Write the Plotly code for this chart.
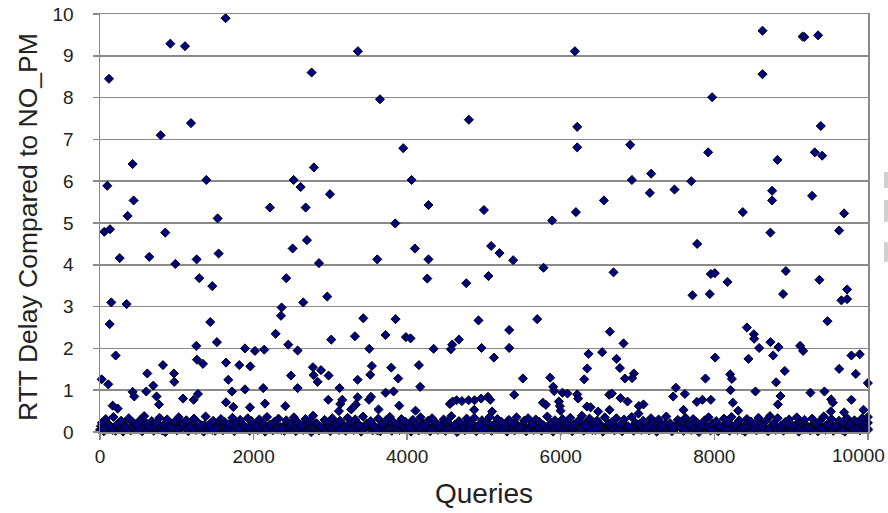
import plotly.graph_objects as go

# ---- Data ----
# Sparse points clearly visible above the dense band
out_x = [117, 916, 1107, 1636, 2756, 1185, 790, 425, 2786, 95, 1384, 2522, 2613, 2995, 438, 2213, 2678, 360, 1532,
         3359, 6185, 3646, 4804, 6215, 3949, 6215, 4057, 6562, 4278, 5000, 6198, 3845, 5889,
         8628, 9150, 9172, 9352, 8628, 7972, 9387, 6905, 7920, 9309, 9405, 8823, 7178, 6927, 7700, 7161, 7482, 8753, 8753, 9274, 8372, 9691,
         56, 130, 850, 2695, 2509, 256, 642, 1259, 1545, 981, 2852, 1293, 2426, 1462, 147, 347, 2647, 2960, 2365, 2357,
         126, 1436, 2287, 3012, 3320, 1254, 1523, 2452, 1888, 2018, 2139, 2574, 204, 1263, 1341, 820, 1641, 1814, 1957,
         2773, 2878, 616, 963, 2487, 2782, 2977, 22, 108, 694, 967, 1671, 2834, 1888, 2126, 2574, 3120, 425, 447, 603,
         737, 768, 1081, 1220, 1276, 1719, 1641, 1736, 1953, 2148, 2413, 2973, 3129, 3155, 165, 230, 3112,
         4101, 3611, 4278, 5094, 5203, 5381, 5776, 4262, 4770, 5059, 3429, 3849, 4929, 5694, 5329, 3719, 3984, 4044,
         4674, 4587, 3507, 4345, 4570, 4969, 5329, 5130, 6362, 6540, 6640, 3541, 3793, 4153, 6345, 3520, 3355, 3884,
         5507, 5863, 6306, 4170, 5902, 3719, 3823, 5915, 6023, 6088, 6215, 6227, 5394, 6631, 3355, 3503, 3529, 3333,
         3897, 4557, 4592, 4644, 4713, 4800, 4878, 4964, 5052, 5082, 5768, 5807, 5976, 5989, 6341, 6389, 6488, 3272,
         3627, 4109, 4873, 5107, 5998,
         7777, 8731, 9626, 6688, 7955, 8007, 8172, 8932, 9369, 7716, 7942, 8896, 9656, 9730, 9730, 9474, 8424, 8515,
         8519, 8584, 8731, 8836, 9118, 9157, 6818, 8767, 8011, 9786, 9895, 6727, 8445, 9626, 9843, 8918, 6771, 6953,
         6836, 6930, 7885, 8207, 8229, 8805, 10000, 7499, 8211, 8536, 9435, 9252, 7617, 7465, 6666, 8862, 6779, 6870,
         7018, 7078, 7773, 7846, 7955, 8242, 8828, 9522, 9544, 9786, 6636, 7013, 7599, 8311, 9517, 9691, 9943,
         10000, 10000, 10000]
out_y = [8.45, 9.29, 9.23, 9.90, 8.60, 7.39, 7.10, 6.41, 6.33, 5.89, 6.03, 6.03, 5.86, 5.69, 5.54, 5.37, 5.37, 5.17, 5.11,
         9.11, 9.11, 7.96, 7.47, 7.30, 6.79, 6.81, 6.03, 5.54, 5.43, 5.31, 5.26, 4.99, 5.06,
         9.60, 9.46, 9.45, 9.49, 8.56, 8.01, 7.32, 6.87, 6.69, 6.69, 6.61, 6.51, 6.18, 6.03, 6.00, 5.72, 5.80, 5.77, 5.54, 5.65, 5.26, 5.23,
         4.79, 4.85, 4.77, 4.59, 4.39, 4.16, 4.19, 4.13, 4.27, 4.02, 4.04, 3.68, 3.68, 3.49, 3.10, 3.06, 3.10, 3.24, 2.98, 2.78,
         2.58, 2.63, 2.35, 2.21, 2.29, 2.06, 2.15, 2.09, 2.00, 1.94, 1.97, 1.95, 1.83, 1.73, 1.63, 1.60, 1.66, 1.60, 1.57,
         1.55, 1.48, 1.40, 1.40, 1.35, 1.36, 1.35, 1.26, 1.14, 1.11, 1.20, 1.25, 1.20, 1.02, 1.05, 1.05, 1.05, 0.96, 0.85, 0.97,
         0.85, 0.66, 0.80, 0.77, 0.91, 0.97, 0.71, 0.60, 0.59, 0.68, 0.62, 0.77, 0.67, 0.77, 0.63, 0.56, 0.50,
         4.39, 4.13, 4.13, 4.45, 4.28, 4.11, 3.93, 3.67, 3.56, 3.73, 2.72, 2.70, 2.67, 2.70, 2.44, 2.32, 2.27, 2.24,
         2.21, 2.09, 1.99, 1.99, 1.98, 2.01, 2.01, 1.78, 1.87, 1.91, 2.40, 1.58, 1.54, 1.60, 1.52, 1.37, 1.25, 1.28,
         1.28, 1.30, 1.26, 1.08, 1.08, 0.94, 0.97, 0.98, 0.94, 0.92, 0.90, 0.80, 0.89, 0.89, 0.83, 0.77, 0.84, 0.66,
         0.63, 0.67, 0.73, 0.76, 0.74, 0.76, 0.76, 0.80, 0.84, 0.77, 0.70, 0.65, 0.73, 0.62, 0.61, 0.59, 0.49, 0.54,
         0.54, 0.51, 0.53, 0.49, 0.51,
         4.50, 4.77, 4.82, 3.82, 3.78, 3.80, 3.59, 3.85, 3.64, 3.27, 3.30, 3.30, 3.15, 3.18, 3.41, 2.65, 2.50, 2.34,
         2.23, 2.01, 2.15, 2.03, 2.06, 1.94, 2.12, 1.83, 1.78, 1.83, 1.86, 1.75, 1.75, 1.51, 1.39, 1.46, 1.53, 1.40,
         1.28, 1.29, 1.28, 1.38, 1.27, 1.19, 1.17, 1.06, 1.00, 0.97, 0.97, 0.94, 0.91, 0.85, 0.92, 0.86, 0.81, 0.73,
         0.62, 0.66, 0.72, 0.77, 0.77, 0.70, 0.66, 0.78, 0.70, 0.77, 0.53, 0.44, 0.53, 0.51, 0.49, 0.47, 0.53,
         0.22, 0.07, 0.36]

# Dense band of small values: queries sampled every 50 (three interleaved layers)
base_x = list(range(0, 10001, 50))
base_y = [0.05,0.02,0.09,0.11,0.03,0.07,0.01,0.10,0.04,0.08,0.12,0.02,0.06,0.09,0.03,0.11,0.05,0.00,0.08,0.10,
          0.04,0.07,0.12,0.02,0.09,0.05,0.10,0.01,0.06,0.11,0.03,0.08,0.04,0.12,0.07,0.02,0.10,0.06,0.09,0.03,
          0.11,0.05,0.08,0.01,0.10,0.04,0.07,0.12,0.03,0.09,0.06,0.02,0.11,0.05,0.08,0.00,0.10,0.04,0.07,0.12,
          0.02,0.09,0.06,0.11,0.03,0.08,0.05,0.10,0.01,0.07,0.12,0.04,0.09,0.02,0.06,0.11,0.03,0.08,0.05,0.10,
          0.07,0.01,0.12,0.04,0.09,0.06,0.02,0.11,0.05,0.08,0.03,0.10,0.07,0.00,0.12,0.04,0.09,0.06,0.02,0.11,
          0.05,0.08,0.03,0.10,0.07,0.12,0.01,0.09,0.04,0.06,0.11,0.02,0.08,0.05,0.10,0.03,0.07,0.12,0.01,0.09,
          0.04,0.11,0.06,0.02,0.08,0.10,0.03,0.07,0.12,0.05,0.09,0.01,0.06,0.11,0.04,0.08,0.02,0.10,0.07,0.03,
          0.12,0.05,0.09,0.04,0.11,0.01,0.07,0.10,0.06,0.02,0.08,0.12,0.03,0.09,0.05,0.11,0.00,0.07,0.10,0.04,
          0.06,0.02,0.08,0.12,0.03,0.09,0.05,0.11,0.01,0.07,0.10,0.04,0.06,0.12,0.02,0.08,0.05,0.11,0.03,0.09,
          0.07,0.10,0.01,0.06,0.12,0.04,0.08,0.02,0.11,0.05,0.09,0.03,0.10,0.07,0.01,0.12,0.06,0.08,0.04,0.11,
          0.05]
low_x = list(range(12, 10000, 50))
low_y = [0.14,0.08,0.19,0.05,0.16,0.11,0.21,0.07,0.13,0.18,0.06,0.15,0.20,0.09,0.12,0.17,0.04,0.14,0.22,0.10,
         0.07,0.18,0.12,0.20,0.06,0.15,0.09,0.17,0.13,0.05,0.19,0.11,0.16,0.08,0.21,0.14,0.06,0.18,0.10,0.15,
         0.19,0.09,0.13,0.07,0.17,0.22,0.11,0.05,0.16,0.12,0.20,0.08,0.14,0.18,0.06,0.11,0.21,0.13,0.09,0.17,
         0.10,0.16,0.05,0.19,0.12,0.08,0.15,0.20,0.07,0.13,0.18,0.11,0.04,0.16,0.21,0.09,0.14,0.06,0.19,0.12,
         0.17,0.07,0.13,0.10,0.20,0.15,0.05,0.18,0.11,0.22,0.08,0.14,0.16,0.06,0.12,0.19,0.09,0.17,0.13,0.07,
         0.11,0.20,0.15,0.08,0.14,0.06,0.18,0.12,0.21,0.09,0.16,0.05,0.13,0.19,0.10,0.17,0.07,0.15,0.11,0.20,
         0.06,0.13,0.18,0.10,0.16,0.08,0.21,0.14,0.05,0.12,0.19,0.09,0.17,0.11,0.15,0.07,0.22,0.13,0.08,0.18,
         0.16,0.10,0.06,0.19,0.12,0.15,0.09,0.20,0.14,0.07,0.17,0.11,0.05,0.18,0.13,0.21,0.08,0.16,0.12,0.06,
         0.20,0.12,0.15,0.07,0.18,0.10,0.13,0.05,0.19,0.16,0.09,0.14,0.21,0.11,0.06,0.17,0.13,0.08,0.19,0.15,
         0.09,0.17,0.11,0.21,0.06,0.14,0.19,0.12,0.08,0.16,0.20,0.10,0.13,0.05,0.18,0.15,0.07,0.12,0.17,0.10]
mid_x = list(range(25, 10000, 50))
mid_y = [0.22,0.31,0.15,0.36,0.19,0.27,0.12,0.33,0.24,0.18,0.29,0.38,0.14,0.26,0.21,0.34,0.17,0.30,0.11,0.25,
         0.35,0.20,0.28,0.13,0.32,0.23,0.16,0.37,0.19,0.27,0.10,0.31,0.24,0.18,0.34,0.22,0.29,0.15,0.33,0.26,
         0.14,0.30,0.21,0.36,0.17,0.25,0.32,0.12,0.28,0.19,0.35,0.23,0.16,0.31,0.26,0.39,0.20,0.13,0.29,0.24,
         0.33,0.18,0.27,0.11,0.34,0.22,0.30,0.15,0.37,0.21,0.26,0.14,0.32,0.19,0.28,0.36,0.23,0.17,0.31,0.25,
         0.12,0.29,0.20,0.35,0.16,0.27,0.33,0.22,0.13,0.30,0.24,0.38,0.18,0.26,0.11,0.32,0.21,0.34,0.15,0.28,
         0.23,0.36,0.17,0.31,0.25,0.14,0.29,0.20,0.35,0.12,0.27,0.33,0.19,0.30,0.24,0.16,0.37,0.22,0.28,0.13,
         0.31,0.21,0.34,0.18,0.26,0.39,0.15,0.32,0.23,0.28,0.11,0.35,0.20,0.25,0.33,0.17,0.30,0.14,0.36,0.22,
         0.19,0.27,0.13,0.33,0.24,0.30,0.16,0.37,0.21,0.12,0.29,0.25,0.34,0.18,0.31,0.23,0.15,0.28,0.35,0.20,
         0.26,0.14,0.32,0.22,0.36,0.17,0.28,0.11,0.31,0.25,0.19,0.34,0.13,0.27,0.38,0.21,0.33,0.16,0.24,0.30,
         0.15,0.35,0.23,0.29,0.12,0.32,0.20,0.26,0.37,0.18,0.31,0.14,0.27,0.22,0.34,0.19,0.28,0.24,0.33,0.17]

x_ticks = [0, 2000, 4000, 6000, 8000, 10000]
y_ticks = list(range(0, 11))

x_title = "Queries"
y_title = "RTT Delay Compared to NO_PM"

# ---- Figure ----
all_x = base_x + low_x + mid_x + out_x
all_y = base_y + low_y + mid_y + out_y

fig = go.Figure()
fig.add_trace(go.Scatter(
    x=all_x, y=all_y, mode="markers", cliponaxis=False,
    marker=dict(symbol="diamond", size=7, color="#000080",
                line=dict(color="#000000", width=1)),
    showlegend=False, hoverinfo="skip"))

FONT = "Liberation Sans, Arial, sans-serif"
TICKC = "#222222"
# the page's default 8px body margin is removed below, so the figure fills the window
W, H = 888, 513
L, R, T, B = 100, 20, 14, 81
x_labels = [str(v) if v != 10000 else "" for v in x_ticks]
fig.update_layout(
    width=W, height=H,
    margin=dict(l=L, r=R, t=T, b=B, autoexpand=False),
    paper_bgcolor="white", plot_bgcolor="white",
    font=dict(family=FONT, color=TICKC),
    xaxis=dict(range=[0, 10002], tickvals=x_ticks, ticktext=x_labels,
               showgrid=False, zeroline=False, showline=True, linecolor="#8a8a8a", linewidth=1.5,
               mirror=True, ticks="outside", ticklen=6, tickcolor="#8a8a8a", tickwidth=1.5,
               automargin=False, ticklabeloverflow="allow",
               tickfont=dict(size=19, family=FONT, color=TICKC), ticklabelstandoff=1),
    yaxis=dict(range=[0, 10], tickvals=y_ticks, ticktext=[str(v) for v in y_ticks],
               showgrid=True, gridcolor="#8a8a8a", gridwidth=1.5, zeroline=False,
               showline=True, linecolor="#8a8a8a", linewidth=1.5, mirror=True,
               ticks="outside", ticklen=6, tickcolor="#8a8a8a", tickwidth=1.5,
               automargin=False, ticklabeloverflow="allow",
               tickfont=dict(size=19, family=FONT, color=TICKC), ticklabelstandoff=15),
    annotations=[
        dict(text=str(x_ticks[-1]), xref="x", yref="paper", x=x_ticks[-1], y=0,
             xanchor="right", yanchor="top", xshift=19, yshift=-11, showarrow=False,
             font=dict(size=19, family=FONT, color=TICKC)),
        dict(text=x_title, xref="paper", yref="paper", x=0.5, y=-0.148,
             xanchor="center", yanchor="middle", showarrow=False,
             font=dict(size=28, family=FONT, color=TICKC)),
        dict(text=y_title, xref="paper", yref="paper", x=-0.094, y=0.49,
             xanchor="center", yanchor="middle", showarrow=False, textangle=-90,
             font=dict(size=26.5, family=FONT, color=TICKC)),
    ],
    shapes=[
        dict(type="rect", xref="paper", yref="paper", x0=1.0208, x1=1.03, y0=(432-188)/418, y1=(432-172)/418,
             fillcolor="#d0d0d0", line=dict(width=0)),
        dict(type="rect", xref="paper", yref="paper", x0=1.0208, x1=1.03, y0=(432-222)/418, y1=(432-200)/418,
             fillcolor="#d0d0d0", line=dict(width=0)),
        dict(type="rect", xref="paper", yref="paper", x0=1.0208, x1=1.03, y0=(432-262)/418, y1=(432-242)/418,
             fillcolor="#d0d0d0", line=dict(width=0)),
    ],
)

fig.write_html("out.html",
               config={"displayModeBar": False, "staticPlot": True},
               post_script="document.body.style.margin='0';document.body.style.overflow='hidden';")
